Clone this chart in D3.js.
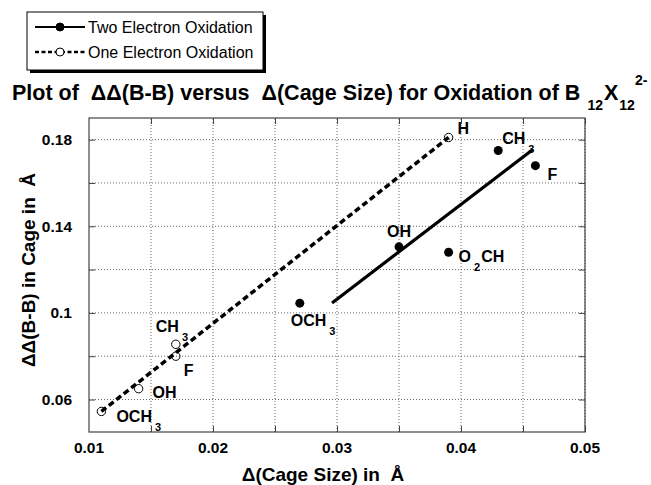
<!DOCTYPE html>
<html>
<head>
<meta charset="utf-8">
<script src="https://cdn.jsdelivr.net/npm/d3@7"></script>
<style>
  body { margin: 0; background: #fff; }
  svg { display: block; font-family: "Liberation Sans", Arial, Helvetica, sans-serif; }
  text { white-space: pre; }
</style>
</head>
<body>
<svg id="chart" width="651" height="485"></svg>
<script>
// data
const seriesNames = ['Two Electron Oxidation', 'One Electron Oxidation'];
const twoLabels = ['OCH3', 'OH', 'O2CH', 'CH3', 'F'];
const twoX = [0.027, 0.035, 0.039, 0.043, 0.046];
const twoY = [0.1045, 0.1305, 0.128, 0.175, 0.168];
const oneLabels = ['OCH3', 'OH', 'F', 'CH3', 'H'];
const oneX = [0.011, 0.014, 0.017, 0.017, 0.039];
const oneY = [0.0545, 0.065, 0.080, 0.0855, 0.181];
// fitted lines, drawn end to end
const twoFitX = [0.0296, 0.0458];
const twoFitY = [0.1046, 0.1755];
const oneFitX = [0.011, 0.039];
const oneFitY = [0.0545, 0.181];
const xTicks = [0.01, 0.02, 0.03, 0.04, 0.05];
const yTicks = [0.06, 0.1, 0.14, 0.18];

// label placement (pixels from the point: dx, baseline dy)
const twoLabelPos = [[-9, 23], [-12, -10], [10, 10], [4, -6], [12, 14]];
const oneLabelPos = [[15, 11], [14, 9], [8, 20], [-20, -12], [9, -3]];

const svg = d3.select('#chart');
const x = d3.scaleLinear().domain([0.01, 0.05]).range([89, 585]);
const y = d3.scaleLinear().domain([0.045, 0.19]).range([432, 118]);
const [x0, x1] = x.range();
const [y0, y1] = y.range();

// grid
const gx = d3.range(0.015, 0.05, 0.005);
const gy = d3.range(0.06, 0.19, 0.02);
svg.append('g').selectAll('line').data(gx).enter().append('line')
    .attr('x1', d => x(d)).attr('x2', d => x(d)).attr('y1', y0).attr('y2', y1)
    .attr('stroke', '#666').attr('stroke-width', 1).attr('stroke-dasharray', '1,2');
svg.append('g').selectAll('line').data(gy).enter().append('line')
    .attr('y1', d => y(d)).attr('y2', d => y(d)).attr('x1', x0).attr('x2', x1)
    .attr('stroke', '#666').attr('stroke-width', 1).attr('stroke-dasharray', '1,2');

// inner ticks on all four sides
const tickLen = 6;
const axes = [
    [d3.axisBottom(x).tickValues(gx), `translate(0,${y0})`],
    [d3.axisTop(x).tickValues(gx), `translate(0,${y1})`],
    [d3.axisLeft(y).tickValues(gy), `translate(${x0},0)`],
    [d3.axisRight(y).tickValues(gy), `translate(${x1},0)`],
];
axes.forEach(([ax, tr]) => {
    const g = svg.append('g').attr('transform', tr)
        .call(ax.tickSize(-tickLen).tickFormat(''));
    g.select('.domain').remove();
    g.selectAll('line').attr('stroke', '#444');
});

svg.append('rect').attr('x', x0).attr('y', y1)
    .attr('width', x1 - x0).attr('height', y0 - y1)
    .attr('fill', 'none').attr('stroke', '#444').attr('stroke-width', 1.2);

// tick labels
const fmt = d => String(+d.toFixed(2));
svg.append('g').selectAll('text').data(xTicks).enter().append('text')
    .attr('x', d => x(d)).attr('y', 453)
    .attr('text-anchor', 'middle').attr('font-weight', 'bold').attr('font-size', 15.5)
    .text(fmt);
svg.append('g').selectAll('text').data(yTicks).enter().append('text')
    .attr('x', 72).attr('y', d => y(d) + 5.5)
    .attr('text-anchor', 'end').attr('font-weight', 'bold').attr('font-size', 15.5)
    .text(fmt);

// axis titles
svg.append('text').attr('x', 323).attr('y', 481)
    .attr('text-anchor', 'middle').attr('font-weight', 'bold').attr('font-size', 19)
    .text('\u0394(Cage Size) in  \u00c5');
svg.append('text').attr('transform', 'translate(35,270) rotate(-90)')
    .attr('text-anchor', 'middle').attr('font-weight', 'bold').attr('font-size', 19)
    .text('\u0394\u0394(B-B) in Cage in  \u00c5');

// title
const title = svg.append('text').attr('x', 12).attr('y', 100)
    .attr('font-weight', 'bold').attr('font-size', 21.5);
title.append('tspan').text('Plot of  \u0394\u0394(B-B) versus  \u0394(Cage Size) for Oxidation of B');
title.append('tspan').attr('dx', 7).attr('dy', 10).attr('font-size', 14).text('12');
title.append('tspan').attr('dx', 1).attr('dy', -10).text('X');
title.append('tspan').attr('dx', 1).attr('dy', 10).attr('font-size', 14).text('12');
title.append('tspan').attr('dx', 0).attr('dy', -25).attr('font-size', 14).text('2-');

// fit lines
const line = d3.line().x(d => x(d[0])).y(d => y(d[1]));
svg.append('path').datum(d3.zip(oneFitX, oneFitY)).attr('d', line)
    .attr('fill', 'none').attr('stroke', '#000').attr('stroke-width', 3.5)
    .attr('stroke-dasharray', '6,3.5');
svg.append('path').datum(d3.zip(twoFitX, twoFitY)).attr('d', line)
    .attr('fill', 'none').attr('stroke', '#000').attr('stroke-width', 3.2);

// points
svg.append('g').selectAll('circle').data(d3.zip(oneX, oneY)).enter().append('circle')
    .attr('cx', d => x(d[0])).attr('cy', d => y(d[1])).attr('r', 4.2)
    .attr('fill', 'none').attr('stroke', '#000').attr('stroke-width', 1);
svg.append('g').selectAll('circle').data(d3.zip(twoX, twoY)).enter().append('circle')
    .attr('cx', d => x(d[0])).attr('cy', d => y(d[1])).attr('r', 4.5)
    .attr('fill', '#000');

// point labels, digits as subscripts
function addLabel(label, px, py, off) {
    const t = svg.append('text').attr('x', px + off[0]).attr('y', py + off[1])
        .attr('font-weight', 'bold').attr('font-size', 16);
    const parts = label.match(/\d+|\D+/g);
    let low = false;
    parts.forEach(p => {
        const ts = t.append('tspan').text(p);
        if (/\d/.test(p)) {
            ts.attr('font-size', 11).attr('dx', 3).attr('dy', 9);
            low = true;
        } else if (low) {
            ts.attr('dy', -9).attr('dx', 1);
            low = false;
        }
    });
}
twoLabels.forEach((l, i) => addLabel(l, x(twoX[i]), y(twoY[i]), twoLabelPos[i]));
oneLabels.forEach((l, i) => addLabel(l, x(oneX[i]), y(oneY[i]), oneLabelPos[i]));

// legend
const lg = svg.append('g');
lg.append('rect').attr('x', 30).attr('y', 15).attr('width', 236).attr('height', 58).attr('fill', '#000');
lg.append('rect').attr('x', 27).attr('y', 12).attr('width', 236).attr('height', 58)
    .attr('fill', '#fff').attr('stroke', '#000').attr('stroke-width', 1);
const rows = [27, 52];
seriesNames.forEach((name, i) => {
    const ly = rows[i];
    lg.append('line').attr('x1', 35).attr('x2', 85).attr('y1', ly).attr('y2', ly)
        .attr('stroke', '#000').attr('stroke-width', i === 0 ? 2 : 2.5)
        .attr('stroke-dasharray', i === 0 ? null : '4,2.5');
    lg.append('circle').attr('cx', 60).attr('cy', ly).attr('r', 4)
        .attr('fill', i === 0 ? '#000' : '#fff').attr('stroke', '#000').attr('stroke-width', 1);
    lg.append('text').attr('x', 88).attr('y', ly + 6)
        .attr('font-size', 16).text(name);
});
</script>
</body>
</html>
